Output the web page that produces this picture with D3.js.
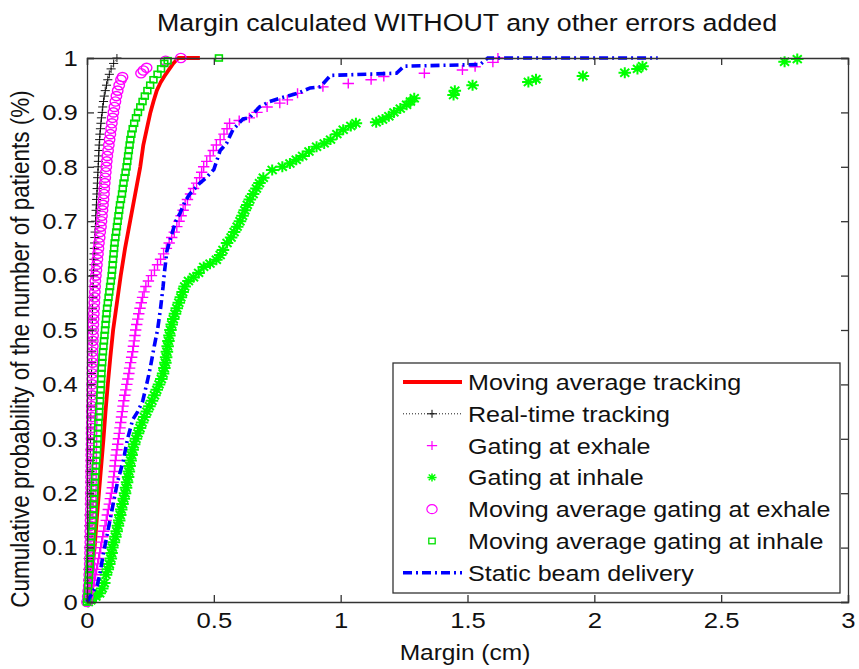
<!DOCTYPE html>
<html><head><meta charset="utf-8">
<script src="https://cdn.jsdelivr.net/npm/d3@7"></script>
<style>
html,body{margin:0;padding:0;background:#fff;}
text{font-family:"Liberation Sans",Arial,Helvetica,sans-serif;}
</style></head>
<body><svg id="chart" width="859" height="669"></svg>
<script>
// ---------- DATA (margin in cm, cumulative probability) ----------
const titleText = "Margin calculated WITHOUT any other errors added";
const xLabel = "Margin (cm)";
const yLabel = "Cumulative probability of the number of patients (%)";
const xTicks = [0, 0.5, 1, 1.5, 2, 2.5, 3];
const yTicks = [0, 0.1, 0.2, 0.3, 0.4, 0.5, 0.6, 0.7, 0.8, 0.9, 1];
const legendLabels = ["Moving average tracking","Real-time tracking","Gating at exhale","Gating at inhale",
  "Moving average gating at exhale","Moving average gating at inhale","Static beam delivery"];

const movingAvgTracking = [[0,0],[0.02,0.06],[0.03,0.1],[0.038,0.15],[0.047,0.2],[0.056,0.25],[0.065,0.3],[0.073,0.35],[0.082,0.4],[0.092,0.45],[0.103,0.5],[0.118,0.55],[0.133,0.6],[0.15,0.65],[0.17,0.7],[0.19,0.75],[0.21,0.8],[0.222,0.84],[0.236,0.87],[0.25,0.9],[0.262,0.92],[0.275,0.94],[0.29,0.955],[0.31,0.97],[0.34,0.99],[0.36,1],[0.445,1]];

const realTimeTracking = [[0,0],[0.002,0.02],[0.003,0.04],[0.004,0.06],[0.005,0.08],[0.006,0.1],[0.007,0.12],[0.007,0.14],[0.008,0.16],[0.009,0.18],[0.011,0.2],[0.011,0.22],[0.012,0.24],[0.013,0.26],[0.013,0.28],[0.014,0.3],[0.015,0.32],[0.015,0.34],[0.016,0.36],[0.017,0.38],[0.017,0.4],[0.018,0.42],[0.019,0.44],[0.019,0.46],[0.02,0.48],[0.021,0.5],[0.021,0.52],[0.022,0.54],[0.023,0.56],[0.024,0.58],[0.025,0.6],[0.026,0.61],[0.027,0.62],[0.027,0.63],[0.028,0.64],[0.029,0.65],[0.03,0.66],[0.031,0.67],[0.032,0.68],[0.033,0.69],[0.034,0.7],[0.035,0.71],[0.036,0.72],[0.037,0.73],[0.038,0.74],[0.039,0.75],[0.04,0.76],[0.041,0.77],[0.042,0.78],[0.043,0.79],[0.044,0.8],[0.045,0.81],[0.046,0.82],[0.047,0.83],[0.048,0.84],[0.05,0.85],[0.051,0.86],[0.053,0.87],[0.055,0.88],[0.057,0.89],[0.06,0.9],[0.062,0.91],[0.065,0.92],[0.068,0.93],[0.072,0.94],[0.077,0.95],[0.082,0.96],[0.088,0.97],[0.095,0.98],[0.105,0.99],[0.118,1]];

const gatingExhale = [[0.003,0],[0.008,0.01],[0.015,0.02],[0.022,0.03],[0.03,0.04],[0.034,0.05],[0.038,0.06],[0.042,0.07],[0.046,0.08],[0.05,0.09],[0.054,0.1],[0.058,0.11],[0.062,0.12],[0.066,0.13],[0.071,0.14],[0.076,0.15],[0.08,0.16],[0.084,0.17],[0.088,0.18],[0.092,0.19],[0.096,0.2],[0.1,0.21],[0.103,0.22],[0.105,0.23],[0.108,0.24],[0.11,0.25],[0.112,0.26],[0.115,0.27],[0.118,0.28],[0.121,0.29],[0.124,0.3],[0.127,0.31],[0.13,0.32],[0.133,0.33],[0.136,0.34],[0.139,0.35],[0.142,0.36],[0.145,0.37],[0.149,0.38],[0.153,0.39],[0.157,0.4],[0.161,0.41],[0.165,0.42],[0.168,0.43],[0.172,0.44],[0.176,0.45],[0.18,0.46],[0.183,0.47],[0.186,0.48],[0.189,0.49],[0.192,0.5],[0.196,0.51],[0.2,0.52],[0.204,0.53],[0.209,0.54],[0.214,0.55],[0.219,0.56],[0.225,0.57],[0.232,0.58],[0.242,0.59],[0.254,0.6],[0.266,0.61],[0.278,0.62],[0.29,0.63],[0.302,0.64],[0.313,0.65],[0.324,0.66],[0.334,0.67],[0.344,0.68],[0.354,0.69],[0.363,0.7],[0.371,0.71],[0.379,0.72],[0.387,0.73],[0.396,0.74],[0.408,0.75],[0.42,0.76],[0.432,0.77],[0.444,0.78],[0.452,0.79],[0.46,0.8],[0.472,0.81],[0.485,0.82],[0.498,0.83],[0.51,0.84],[0.525,0.85],[0.54,0.86],[0.552,0.87],[0.562,0.88],[0.6,0.885],[0.64,0.89],[0.67,0.9],[0.71,0.91],[0.76,0.917],[0.79,0.923],[0.83,0.935],[0.93,0.947],[1.03,0.953],[1.12,0.96],[1.17,0.966],[1.33,0.972],[1.48,0.978],[1.53,0.984],[1.6,0.992],[1.62,1]];

const gatingInhale = [[0.005,0],[0.015,0.003],[0.02,0.006],[0.035,0.01],[0.05,0.016],[0.06,0.025],[0.068,0.035],[0.075,0.05],[0.082,0.06],[0.088,0.07],[0.094,0.08],[0.097,0.09],[0.1,0.1],[0.106,0.11],[0.112,0.12],[0.117,0.13],[0.122,0.14],[0.127,0.15],[0.131,0.16],[0.135,0.17],[0.14,0.18],[0.145,0.19],[0.15,0.2],[0.154,0.21],[0.158,0.22],[0.162,0.23],[0.165,0.24],[0.168,0.25],[0.172,0.26],[0.176,0.27],[0.18,0.28],[0.186,0.29],[0.193,0.3],[0.201,0.31],[0.209,0.32],[0.217,0.33],[0.226,0.34],[0.236,0.35],[0.246,0.36],[0.256,0.37],[0.266,0.38],[0.275,0.39],[0.284,0.4],[0.293,0.41],[0.3,0.42],[0.305,0.43],[0.309,0.44],[0.312,0.45],[0.315,0.46],[0.318,0.47],[0.321,0.48],[0.325,0.49],[0.329,0.5],[0.334,0.51],[0.34,0.52],[0.347,0.53],[0.354,0.54],[0.362,0.55],[0.37,0.56],[0.377,0.57],[0.385,0.58],[0.4,0.59],[0.42,0.597],[0.44,0.605],[0.46,0.616],[0.485,0.622],[0.51,0.629],[0.525,0.638],[0.536,0.647],[0.552,0.66],[0.568,0.67],[0.58,0.68],[0.592,0.69],[0.603,0.7],[0.613,0.71],[0.622,0.72],[0.632,0.73],[0.642,0.74],[0.655,0.75],[0.668,0.76],[0.68,0.77],[0.695,0.78],[0.73,0.794],[0.77,0.8],[0.8,0.806],[0.825,0.813],[0.85,0.82],[0.875,0.828],[0.905,0.837],[0.935,0.843],[0.96,0.85],[0.985,0.86],[1.01,0.868],[1.04,0.875],[1.06,0.88],[1.14,0.882],[1.165,0.887],[1.19,0.893],[1.21,0.9],[1.235,0.907],[1.26,0.914],[1.275,0.92],[1.29,0.926],[1.445,0.932],[1.45,0.94],[1.52,0.95],[1.74,0.956],[1.77,0.961],[1.955,0.967],[2.12,0.973],[2.17,0.98],[2.19,0.985],[2.75,0.993],[2.8,0.998]];

const maGatingExhale = [[0,0],[0.003,0.01],[0.005,0.02],[0.007,0.03],[0.008,0.04],[0.009,0.05],[0.01,0.06],[0.011,0.07],[0.011,0.08],[0.012,0.09],[0.012,0.1],[0.013,0.11],[0.013,0.12],[0.013,0.13],[0.014,0.14],[0.014,0.15],[0.014,0.16],[0.015,0.17],[0.015,0.18],[0.015,0.19],[0.015,0.2],[0.016,0.21],[0.016,0.22],[0.016,0.23],[0.016,0.24],[0.017,0.25],[0.017,0.26],[0.017,0.27],[0.017,0.28],[0.018,0.29],[0.018,0.3],[0.018,0.31],[0.018,0.32],[0.019,0.33],[0.019,0.34],[0.019,0.35],[0.019,0.36],[0.02,0.37],[0.02,0.38],[0.02,0.39],[0.02,0.4],[0.021,0.41],[0.021,0.42],[0.021,0.43],[0.022,0.44],[0.022,0.45],[0.022,0.46],[0.023,0.47],[0.023,0.48],[0.024,0.49],[0.024,0.5],[0.025,0.51],[0.026,0.52],[0.027,0.53],[0.028,0.54],[0.029,0.55],[0.03,0.56],[0.031,0.57],[0.032,0.58],[0.033,0.59],[0.035,0.6],[0.037,0.61],[0.039,0.62],[0.041,0.63],[0.043,0.64],[0.045,0.65],[0.047,0.66],[0.05,0.67],[0.052,0.68],[0.055,0.69],[0.057,0.7],[0.059,0.71],[0.061,0.72],[0.063,0.73],[0.065,0.74],[0.067,0.75],[0.068,0.76],[0.07,0.77],[0.072,0.78],[0.074,0.79],[0.076,0.8],[0.078,0.81],[0.08,0.82],[0.083,0.83],[0.086,0.84],[0.089,0.85],[0.092,0.86],[0.095,0.87],[0.098,0.88],[0.101,0.89],[0.104,0.9],[0.108,0.91],[0.112,0.92],[0.116,0.93],[0.121,0.94],[0.127,0.95],[0.134,0.96],[0.14,0.965],[0.213,0.972],[0.222,0.977],[0.235,0.982],[0.31,0.995],[0.37,1]];

const maGatingInhale = [[0,0],[0.002,0.01],[0.004,0.02],[0.005,0.03],[0.007,0.04],[0.008,0.05],[0.01,0.06],[0.011,0.07],[0.012,0.08],[0.014,0.09],[0.015,0.1],[0.016,0.11],[0.018,0.12],[0.02,0.13],[0.022,0.14],[0.024,0.15],[0.025,0.16],[0.026,0.17],[0.027,0.18],[0.028,0.19],[0.029,0.2],[0.03,0.21],[0.031,0.22],[0.032,0.23],[0.034,0.24],[0.035,0.25],[0.037,0.26],[0.039,0.27],[0.04,0.28],[0.041,0.29],[0.042,0.3],[0.043,0.31],[0.044,0.32],[0.045,0.33],[0.047,0.34],[0.048,0.35],[0.049,0.36],[0.051,0.37],[0.052,0.38],[0.054,0.39],[0.055,0.4],[0.056,0.41],[0.057,0.42],[0.058,0.43],[0.06,0.44],[0.061,0.45],[0.063,0.46],[0.065,0.47],[0.067,0.48],[0.069,0.49],[0.071,0.5],[0.073,0.51],[0.075,0.52],[0.077,0.53],[0.079,0.54],[0.082,0.55],[0.085,0.56],[0.088,0.57],[0.091,0.58],[0.094,0.59],[0.097,0.6],[0.099,0.61],[0.101,0.62],[0.103,0.63],[0.105,0.64],[0.107,0.65],[0.109,0.66],[0.112,0.67],[0.115,0.68],[0.118,0.69],[0.121,0.7],[0.124,0.71],[0.127,0.72],[0.13,0.73],[0.134,0.74],[0.138,0.75],[0.141,0.76],[0.144,0.77],[0.148,0.78],[0.152,0.79],[0.156,0.8],[0.159,0.81],[0.162,0.82],[0.165,0.83],[0.168,0.84],[0.171,0.85],[0.175,0.86],[0.18,0.87],[0.186,0.88],[0.193,0.89],[0.201,0.9],[0.21,0.91],[0.219,0.92],[0.228,0.93],[0.238,0.94],[0.249,0.95],[0.262,0.96],[0.278,0.97],[0.292,0.98],[0.305,0.99],[0.318,0.995],[0.52,1]];

const staticBeam = [[0,0],[0.012,0.01],[0.025,0.02],[0.04,0.03],[0.05,0.05],[0.065,0.09],[0.08,0.125],[0.103,0.18],[0.12,0.22],[0.143,0.26],[0.16,0.3],[0.18,0.335],[0.2,0.35],[0.22,0.37],[0.24,0.41],[0.25,0.432],[0.265,0.47],[0.278,0.5],[0.29,0.54],[0.3,0.58],[0.305,0.605],[0.315,0.645],[0.33,0.67],[0.35,0.7],[0.367,0.715],[0.385,0.735],[0.405,0.75],[0.445,0.77],[0.47,0.78],[0.5,0.795],[0.525,0.83],[0.55,0.843],[0.575,0.868],[0.615,0.888],[0.64,0.89],[0.68,0.91],[0.72,0.92],[0.76,0.926],[0.83,0.935],[0.88,0.945],[0.92,0.947],[0.96,0.968],[1.22,0.972],[1.25,0.985],[1.55,0.988],[1.58,1],[2.25,1]];

// ---------- DRAWING ----------
const svg = d3.select("#chart");
const x = d3.scaleLinear().domain([0, 3]).range([87, 848]);
const y = d3.scaleLinear().domain([0, 1]).range([602, 58]);
const FONT = 22.5;      // tick font size
const SX = 1.14;        // horizontal stretch seen in the reference text
const FAM = '"Liberation Sans",Arial,sans-serif';

svg.append("rect").attr("width", 859).attr("height", 669).attr("fill", "#fff");

const plot = svg.append("g");
const lineGen = d3.line().x(d => x(d[0])).y(d => y(d[1]));

// marker shapes
const markers = {
  plus: r => `M${-r * SX},0H${r * SX}M0,${-r}V${r}`,
  star: r => { const a = r * 0.72; return `M${-r * SX},0H${r * SX}M0,${-r}V${r}M${-a * SX},${-a}L${a * SX},${a}M${-a * SX},${a}L${a * SX},${-a}`; },
};
function markerInto(g, type, color, size, sw) {
  if (type === "circle") {
    g.append("ellipse").attr("rx", size * SX).attr("ry", size).attr("fill", "none").attr("stroke", color).attr("stroke-width", sw);
  } else if (type === "square") {
    g.append("rect").attr("x", -size * SX).attr("y", -size).attr("width", 2 * size * SX).attr("height", 2 * size)
      .attr("fill", "none").attr("stroke", color).attr("stroke-width", sw);
  } else {
    g.append("path").attr("d", markers[type](size)).attr("fill", "none").attr("stroke", color).attr("stroke-width", sw);
  }
}
function drawMarkers(g, data, type, color, size, sw) {
  g.append("g").selectAll("g").data(data).join("g")
    .attr("transform", d => `translate(${x(d[0])},${y(d[1])})`)
    .each(function () { markerInto(d3.select(this), type, color, size, sw); });
}

// 1 Moving average tracking (red solid)
plot.append("path").datum(movingAvgTracking).attr("d", lineGen)
  .attr("fill", "none").attr("stroke", "#ff0000").attr("stroke-width", 3.8).attr("stroke-linejoin", "round");
// 2 Real-time tracking (black dotted + markers)
plot.append("path").datum(realTimeTracking).attr("d", lineGen)
  .attr("fill", "none").attr("stroke", "#000").attr("stroke-width", 0.9).attr("stroke-dasharray", "1,2");
drawMarkers(plot, realTimeTracking, "plus", "#000", 4, 0.9);
// 3 Gating at exhale (magenta +)
drawMarkers(plot, gatingExhale, "plus", "#ff00ff", 5, 1.4);
// 4 Gating at inhale (green *)
drawMarkers(plot, gatingInhale, "star", "#00ff00", 5.5, 2);
// 5 Moving average gating at exhale (magenta o)
drawMarkers(plot, maGatingExhale, "circle", "#ff00ff", 4.6, 1.4);
// 6 Moving average gating at inhale (green squares)
drawMarkers(plot, maGatingInhale, "square", "#00e000", 3, 1.6);
// 7 Static beam delivery (blue dash-dot)
plot.append("path").datum(staticBeam).attr("d", lineGen)
  .attr("fill", "none").attr("stroke", "#0000ff").attr("stroke-width", 3.6).attr("stroke-dasharray", "9,4,2,4");

// axes (MATLAB style: ticks inward on all four sides)
const axB = svg.append("g").attr("transform", `translate(0,${y(0)})`)
  .call(d3.axisBottom(x).tickValues(xTicks).tickFormat(d3.format("")).tickSize(-7).tickPadding(10));
const axL = svg.append("g").attr("transform", `translate(${x(0)},0)`)
  .call(d3.axisLeft(y).tickValues(yTicks).tickFormat(d3.format("")).tickSize(-7).tickPadding(8));
const axT = svg.append("g").attr("transform", `translate(0,${y(1)})`)
  .call(d3.axisTop(x).tickValues(xTicks).tickFormat("").tickSize(-7));
const axR = svg.append("g").attr("transform", `translate(${x(3)},0)`)
  .call(d3.axisRight(y).tickValues(yTicks).tickFormat("").tickSize(-7));
[axB, axL, axT, axR].forEach(g => {
  g.selectAll("path.domain").attr("stroke", "#333").attr("stroke-width", 1.3);
  g.selectAll(".tick line").attr("stroke", "#333").attr("stroke-width", 1.3);
  g.selectAll(".tick text").attr("font-size", FONT).attr("fill", "#111")
    .attr("font-family", FAM).attr("transform", `scale(${SX},1)`);
});

// title & labels
svg.append("text").attr("transform", `translate(467,31) scale(${SX},1)`).attr("text-anchor", "middle")
  .attr("font-size", 23.5).attr("fill", "#111").text(titleText);
svg.append("text").attr("transform", `translate(465,660) scale(${SX},1)`).attr("text-anchor", "middle")
  .attr("font-size", 21.5).attr("fill", "#111").text(xLabel);
svg.append("text").attr("transform", `translate(29,349) scale(${SX},1) rotate(-90)`)
  .attr("text-anchor", "middle").attr("font-size", 22.5).attr("fill", "#111").text(yLabel);

// legend
const leg = svg.append("g");
leg.append("rect").attr("x", 393).attr("y", 363).attr("width", 447).attr("height", 230)
  .attr("fill", "#fff").attr("stroke", "#333").attr("stroke-width", 1.3);
const ly = i => 382 + i * 31.8;
const sx0 = 403, sx1 = 462, sxm = 432;
legendLabels.forEach((lab, i) => {
  leg.append("text").attr("transform", `translate(468,${ly(i)}) scale(${SX},1)`).attr("dy", "0.36em")
    .attr("font-size", 22).attr("fill", "#111").text(lab);
});
leg.append("line").attr("x1", sx0).attr("x2", sx1).attr("y1", ly(0)).attr("y2", ly(0))
  .attr("stroke", "#ff0000").attr("stroke-width", 3.8);
leg.append("line").attr("x1", sx0).attr("x2", sx1).attr("y1", ly(1)).attr("y2", ly(1))
  .attr("stroke", "#000").attr("stroke-width", 0.9).attr("stroke-dasharray", "1,2");
const legMarker = (i, type, color, size, sw) =>
  markerInto(leg.append("g").attr("transform", `translate(${sxm},${ly(i)})`), type, color, size, sw);
legMarker(1, "plus", "#000", 4, 1);
legMarker(2, "plus", "#ff00ff", 4.5, 1.2);
legMarker(3, "star", "#00ff00", 4, 1.5);
legMarker(4, "circle", "#ff00ff", 4.5, 1.2);
legMarker(5, "square", "#00e000", 2.8, 1.3);
leg.append("line").attr("x1", sx0).attr("x2", sx1).attr("y1", ly(6)).attr("y2", ly(6))
  .attr("stroke", "#0000ff").attr("stroke-width", 3.6).attr("stroke-dasharray", "9,4,2,4");
</script>
</body></html>
